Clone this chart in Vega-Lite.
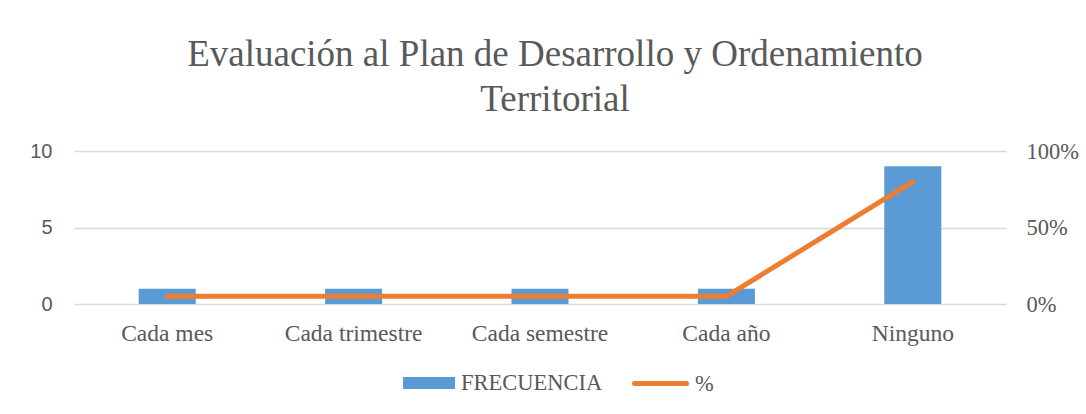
{
  "$schema": "https://vega.github.io/schema/vega-lite/v6.json",
  "width": 932,
  "height": 153,
  "autosize": {"type": "none"},
  "padding": {"left": 74, "top": 151, "right": 80, "bottom": 110},
  "background": "white",
  "title": {
    "text": ["Evaluación al Plan de Desarrollo y Ordenamiento", "Territorial"],
    "font": "Liberation Serif",
    "fontSize": 37,
    "fontWeight": "normal",
    "color": "#595959",
    "anchor": "middle",
    "frame": "group",
    "dx": 15,
    "baseline": "alphabetic",
    "offset": -8,
    "lineHeight": 45
  },
  "data": {
    "values": [
      {"categoria": "Cada mes", "frecuencia": 1, "porcentaje": 0.05},
      {"categoria": "Cada trimestre", "frecuencia": 1, "porcentaje": 0.05},
      {"categoria": "Cada semestre", "frecuencia": 1, "porcentaje": 0.05},
      {"categoria": "Cada año", "frecuencia": 1, "porcentaje": 0.05},
      {"categoria": "Ninguno", "frecuencia": 9, "porcentaje": 0.8}
    ]
  },
  "encoding": {
    "x": {
      "field": "categoria",
      "type": "nominal",
      "sort": null,
      "scale": {"paddingInner": 0, "paddingOuter": 0},
      "axis": {
        "title": null,
        "labelAngle": 0,
        "labelFont": "Liberation Serif",
        "labelFontSize": 23.5,
        "labelColor": "#595959",
        "labelPadding": 17,
        "ticks": false,
        "domain": false,
        "grid": false
      }
    }
  },
  "layer": [
    {
      "mark": {"type": "bar", "width": {"band": 0.306}},
      "encoding": {
        "y": {
          "field": "frecuencia",
          "type": "quantitative",
          "scale": {"domain": [0, 10], "nice": false},
          "axis": {
            "title": null,
            "values": [0, 5, 10],
            "labelFont": "Liberation Sans",
            "labelFontSize": 20,
            "labelColor": "#595959",
            "labelPadding": 22,
            "ticks": false,
            "domain": false,
            "grid": true,
            "gridColor": "#D9D9D9",
            "gridWidth": 1.3
          }
        },
        "color": {
          "datum": "FRECUENCIA",
          "type": "nominal",
          "scale": {"domain": ["FRECUENCIA"], "range": ["#5B9BD5"]},
          "legend": {
            "title": null,
            "orient": "none",
            "legendX": 323,
            "legendY": 200,
            "direction": "horizontal",
            "padding": 0,
            "symbolType": "stroke",
            "symbolSize": 2704,
            "symbolStrokeWidth": 12,
            "labelFont": "Liberation Serif",
            "labelFontSize": 22.5,
            "labelColor": "#595959",
            "labelBaseline": "middle",
            "labelOffset": 0,
            "encode": {
              "symbols": {
                "update": {
                  "fill": {"value": "transparent"},
                  "stroke": {"value": "#5B9BD5"},
                  "strokeWidth": {"value": 12},
                  "strokeCap": {"value": "butt"},
                  "opacity": {"value": 1}
                }
              }
            }
          }
        }
      }
    },
    {
      "mark": {"type": "line", "strokeWidth": 5, "strokeCap": "round", "strokeJoin": "round"},
      "encoding": {
        "y": {
          "field": "porcentaje",
          "type": "quantitative",
          "scale": {"domain": [0, 1], "nice": false},
          "axis": {
            "orient": "right",
            "title": null,
            "values": [0, 0.5, 1],
            "format": ".0%",
            "labelFont": "Liberation Serif",
            "labelFontSize": 22.5,
            "labelColor": "#595959",
            "labelPadding": 20,
            "ticks": false,
            "domain": false,
            "grid": false
          }
        },
        "color": {
          "datum": "%",
          "type": "nominal",
          "scale": {"domain": ["%"], "range": ["#ED7D31"]},
          "legend": {
            "title": null,
            "orient": "none",
            "legendX": 558,
            "legendY": 204,
            "direction": "horizontal",
            "padding": 0,
            "symbolType": "stroke",
            "symbolSize": 2704,
            "symbolStrokeWidth": 5,
            "labelFont": "Liberation Serif",
            "labelFontSize": 22.5,
            "labelColor": "#595959",
            "labelBaseline": "middle",
            "labelOffset": 6,
            "encode": {
              "symbols": {
                "update": {
                  "fill": {"value": "transparent"},
                  "stroke": {"value": "#ED7D31"},
                  "strokeWidth": {"value": 5},
                  "strokeCap": {"value": "round"},
                  "opacity": {"value": 1}
                }
              }
            }
          }
        }
      }
    }
  ],
  "resolve": {"scale": {"y": "independent", "color": "independent"}, "axis": {"y": "independent"}},
  "config": {"view": {"stroke": null}}
}
